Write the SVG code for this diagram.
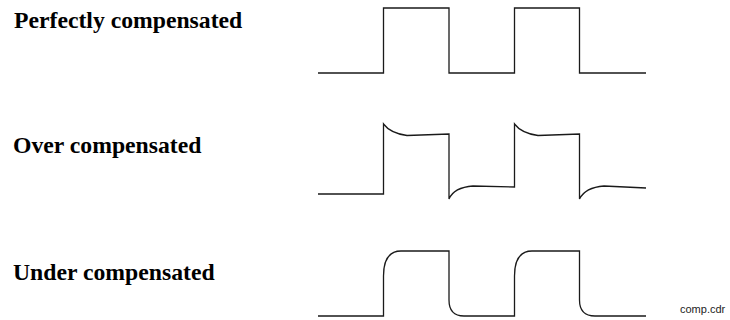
<svg xmlns="http://www.w3.org/2000/svg" width="730" height="320" viewBox="0 0 730 320">
<style>
.lbl{font-family:"Liberation Serif","Times New Roman",serif;font-weight:bold;font-size:23.7px;fill:#000}
.wave{fill:none;stroke:#1a1a1a;stroke-width:1.3;stroke-linejoin:miter}
.note{font-family:"Liberation Sans",Arial,sans-serif;font-size:11px;fill:#222}
</style>
<rect width="730" height="320" fill="#fff"/>
<g id="perfect">
<text class="lbl" x="14" y="28">Perfectly compensated</text>
<path class="wave" d="M318,73 H383.5 V8 H449 V73 H514.5 V8 H579.5 V73 H646"/>
</g>
<g id="over">
<text class="lbl" x="13" y="153">Over compensated</text>
<path class="wave" d="M318,194 H383.5 V124 C388,130 396,134 407,135.5 L449,134 V199 C452,192 460,187 473,186 L514.5,187 V124 C519,130 527,134 538,135.5 L579.5,134 V199 C583,192 591,187 604,186 L646,188"/>
</g>
<g id="under">
<text class="lbl" x="13" y="280">Under compensated</text>
<path class="wave" d="M318,316 H383.5 V276 C383.5,258 390,251 401,251 H449 V300 C449,311 454,316 464,316 H514.5 V276 C514.5,258 521,251 532,251 H579.5 V300 C579.5,311 585,316 595,316 H646"/>
</g>
<text class="note" x="680" y="313">comp.cdr</text>
</svg>
